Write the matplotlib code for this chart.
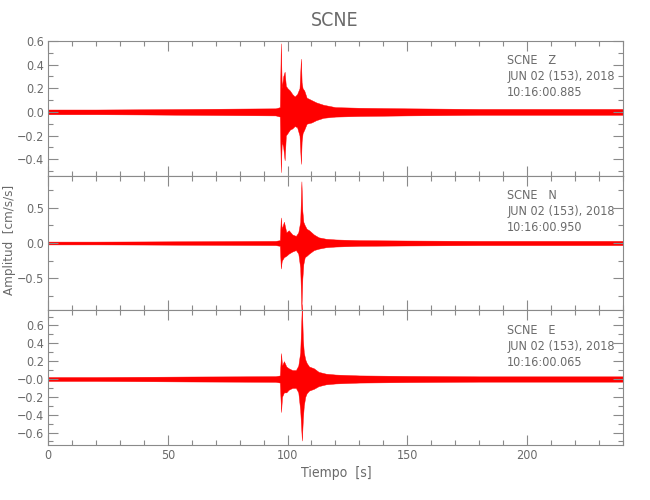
import matplotlib
matplotlib.use("Agg")
import matplotlib.pyplot as plt
from matplotlib.ticker import MultipleLocator, FixedLocator, FixedFormatter

# ---------------- data (envelopes) ----------------
station = "SCNE"
components = ["Z", "N", "E"]
start_times = ["10:16:00.885", "10:16:00.950", "10:16:00.065"]
date_label = "JUN 02 (153), 2018"

t_z = [0, 20, 40, 60, 80, 95, 96.8, 97.2, 97.6, 98.2, 98.8, 99.3, 100, 101, 102, 103, 104, 105,
       105.6, 105.9, 106.3, 107, 108, 110, 112, 115, 120, 130, 150, 180, 210, 240]
up_z = [0.02, 0.02, 0.022, 0.025, 0.028, 0.03, 0.04, 0.58, 0.2, 0.3, 0.34, 0.22, 0.2, 0.18, 0.15,
        0.13, 0.15, 0.2, 0.45, 0.25, 0.2, 0.18, 0.12, 0.1, 0.08, 0.06, 0.04, 0.035, 0.03, 0.025, 0.025, 0.025]
lo_z = [-0.02, -0.02, -0.022, -0.025, -0.028, -0.03, -0.04, -0.51, -0.25, -0.3, -0.41, -0.2, -0.18,
        -0.15, -0.14, -0.12, -0.13, -0.2, -0.44, -0.25, -0.18, -0.15, -0.1, -0.09, -0.07, -0.05,
        -0.04, -0.035, -0.03, -0.025, -0.025, -0.025]

t_n = [0, 20, 40, 60, 80, 95, 96.8, 97.2, 97.6, 98.5, 99.5, 100.5, 102, 103.5, 104.5, 105.3, 105.8,
       106.2, 106.6, 107.2, 108, 109, 111, 113, 116, 120, 130, 150, 180, 210, 240]
up_n = [0.02, 0.02, 0.022, 0.025, 0.028, 0.03, 0.04, 0.36, 0.2, 0.3, 0.15, 0.18, 0.12, 0.1, 0.15,
        0.3, 0.87, 0.45, 0.3, 0.25, 0.2, 0.18, 0.12, 0.08, 0.06, 0.05, 0.04, 0.035, 0.03, 0.03, 0.03]
lo_n = [-0.02, -0.02, -0.022, -0.025, -0.028, -0.03, -0.04, -0.36, -0.25, -0.2, -0.18, -0.15,
        -0.12, -0.1, -0.15, -0.35, -0.94, -0.5, -0.3, -0.2, -0.18, -0.15, -0.1, -0.08, -0.06, -0.05,
        -0.04, -0.035, -0.03, -0.03, -0.03]

t_e = [0, 20, 40, 60, 80, 95, 96.8, 97.3, 97.7, 98.5, 99.5, 100.5, 102, 103.5, 104.5, 105.3, 106.0,
       106.4, 106.8, 107.4, 108, 109, 111, 113, 116, 120, 130, 150, 180, 210, 240]
up_e = [0.022, 0.022, 0.025, 0.028, 0.03, 0.032, 0.04, 0.29, 0.15, 0.2, 0.14, 0.12, 0.1, 0.1, 0.15,
        0.3, 0.84, 0.45, 0.3, 0.22, 0.18, 0.14, 0.12, 0.08, 0.06, 0.05, 0.04, 0.035, 0.03, 0.03, 0.03]
lo_e = [-0.022, -0.022, -0.025, -0.028, -0.03, -0.032, -0.04, -0.37, -0.2, -0.15, -0.15, -0.12, -0.1,
        -0.1, -0.15, -0.35, -0.69, -0.45, -0.3, -0.2, -0.16, -0.13, -0.11, -0.08, -0.06, -0.05,
        -0.04, -0.035, -0.03, -0.03, -0.03]

ylims = [(-0.54, 0.6), (-0.95, 0.95), (-0.74, 0.77)]
yticks = [[0.6, 0.4, 0.2, 0.0, -0.2, -0.4],
          [0.5, 0.0, -0.5],
          [0.6, 0.4, 0.2, 0.0, -0.2, -0.4, -0.6]]
ytick_labels = [["0.6", "0.4", "0.2", "0.0", "\u22120.2", "\u22120.4"],
                ["0.5", "0.0", "\u22120.5"],
                ["0.6", "0.4", "0.2", "\u22120.0", "\u22120.2", "\u22120.4", "\u22120.6"]]
yminor = [0.1, 0.25, 0.1]
xticks = [0, 50, 100, 150, 200]
xtick_labels = ["0", "50", "100", "150", "200"]

traces = [(t_z, up_z, lo_z), (t_n, up_n, lo_n), (t_e, up_e, lo_e)]

# ---------------- style ----------------
GRAY = "#6a6a6a"
AXC = "#8a8a8a"
plt.rcParams["font.family"] = ["DejaVu Sans"]
plt.rcParams["font.stretch"] = "condensed"

fig = plt.figure(figsize=(6.5, 5.0), dpi=100)
gs = fig.add_gridspec(3, 1, left=0.074, right=0.958, top=0.918, bottom=0.11, hspace=0)
axes = [fig.add_subplot(gs[i, 0]) for i in range(3)]

for i, ax in enumerate(axes):
    t, up, lo = traces[i]
    ax.fill_between(t, lo, up, color="red", lw=0.3, edgecolor="red", clip_on=(i < 2))
    ax.set_xlim(0, 240)
    ax.set_ylim(*ylims[i])
    ax.xaxis.set_major_locator(FixedLocator(xticks))
    ax.xaxis.set_minor_locator(MultipleLocator(10))
    ax.yaxis.set_major_locator(FixedLocator(yticks[i]))
    ax.yaxis.set_major_formatter(FixedFormatter(ytick_labels[i]))
    ax.yaxis.set_minor_locator(MultipleLocator(yminor[i]))
    ax.tick_params(which="both", direction="in", top=True, right=True, colors=AXC,
                   labelcolor=GRAY, labelsize=9, width=0.8, pad=3)
    ax.tick_params(which="major", length=7)
    ax.tick_params(which="minor", length=3.5)
    for s in ax.spines.values():
        s.set_color(AXC)
        s.set_linewidth(0.8)
    if i < 2:
        ax.set_xticklabels([])
    else:
        ax.xaxis.set_major_formatter(FixedFormatter(xtick_labels))
    ax.text(0.799, 0.9, f"{station}   {components[i]}\n{date_label}\n{start_times[i]}",
            transform=ax.transAxes, ha="left", va="top", fontsize=9, color=GRAY,
            linespacing=1.3)

fig.text(0.515, 0.958, station, ha="center", va="center", fontsize=14, color=GRAY)
fig.text(0.015, 0.52, "Amplitud  [cm/s/s]", rotation=90, ha="center", va="center",
         fontsize=9.5, color=GRAY)
fig.text(0.517, 0.053, "Tiempo  [s]", ha="center", va="center", fontsize=10, color=GRAY)

fig.savefig("out.png", dpi=100)
